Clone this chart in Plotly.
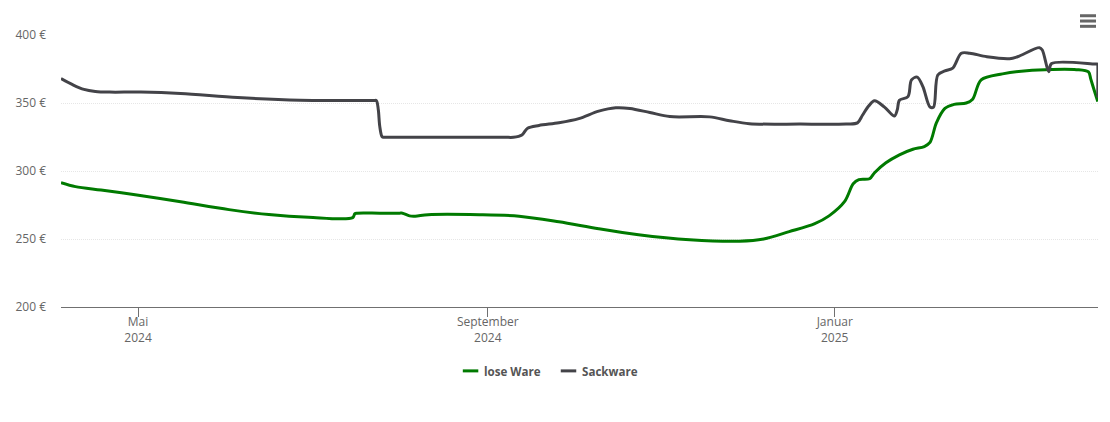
import plotly.graph_objects as go

sack_dates = ["2024-04-03 22:00","2024-04-08","2024-04-12","2024-04-16","2024-04-21","2024-05-02","2024-05-16","2024-06-05","2024-06-27","2024-07-11","2024-07-23","2024-07-23 20:00","2024-07-24 12:00","2024-07-25","2024-07-25 18:00","2024-07-26 06:00","2024-07-27 12:00","2024-08-02","2024-08-20","2024-09-07","2024-09-10","2024-09-13","2024-09-15","2024-09-19","2024-09-26","2024-10-03","2024-10-10","2024-10-16","2024-10-21","2024-10-28","2024-11-04","2024-11-18","2024-11-25","2024-12-02","2024-12-20","2025-01-05","2025-01-09","2025-01-10 18:00","2025-01-13","2025-01-15","2025-01-18 12:00","2025-01-22","2025-01-23","2025-01-23 18:00","2025-01-26 18:00","2025-01-28","2025-01-30","2025-02-01","2025-02-03 12:00","2025-02-04 18:00","2025-02-06 06:00","2025-02-08 18:00","2025-02-11 12:00","2025-02-14 12:00","2025-02-17 12:00","2025-02-23 12:00","2025-03-03 12:00","2025-03-06 06:00","2025-03-14","2025-03-15","2025-03-17 06:00","2025-03-18 06:00","2025-04-02 12:00","2025-04-03 08:00","2025-04-03 09:00","2025-04-03 12:00"]
sack_values = [368,363.5,360,358.5,358,358,357,354,352,351.8,351.8,351.8,345,333,325.5,324.8,324.8,324.8,324.8,324.8,324.8,326.5,331.5,333.5,335.5,338.5,344,346.5,346,343,340,339.8,337,334.8,334.5,334.6,335.4,341,348,351.6,347,340.5,345,352,354.7,367,369,362,347,347,370.6,373.6,375.6,386.6,386.6,384,382.6,384,390.7,389,373,379,378.6,378.6,378.6,354]

lose_dates = ["2024-04-03 22:00","2024-04-09","2024-04-18","2024-04-30","2024-05-16","2024-06-02","2024-06-16","2024-06-30","2024-07-15 12:00","2024-07-16 06:00","2024-07-17","2024-07-25","2024-08-01","2024-08-02","2024-08-04 12:00","2024-08-06 12:00","2024-08-11","2024-08-29","2024-09-12","2024-09-26","2024-10-10","2024-10-24","2024-11-11","2024-11-28 12:00","2024-12-07","2024-12-16","2024-12-25","2024-12-30","2025-01-04 12:00","2025-01-07 12:00","2025-01-09 12:00","2025-01-13 06:00","2025-01-15","2025-01-19","2025-01-23 18:00","2025-01-28 12:00","2025-02-01 12:00","2025-02-03 12:00","2025-02-05 18:00","2025-02-08 18:00","2025-02-12","2025-02-16 06:00","2025-02-18 12:00","2025-02-21 12:00","2025-03-01","2025-03-09 12:00","2025-03-27","2025-03-31 06:00","2025-04-01","2025-04-02","2025-04-03 12:00"]
lose_values = [291.4,288.5,286,282.6,277.4,271.6,268,266,265.7,268.6,269,269,269,269,267,266.8,267.9,267.9,266.8,262.7,257.6,253.2,249.5,248.4,250,255.4,261.3,267,277.6,290.6,293.6,294.3,298.7,306,311.9,316,318,321,335.4,346,349,350,352.8,367,371.4,373.8,374.5,372.8,367.9,361,351]

y_ticks = [200,250,300,350,400]
y_labels = ["200 €","250 €","300 €","350 €","400 €"]
x_ticks = ["2024-05-01","2024-09-01","2025-01-01"]
x_labels = ["Mai<br>2024","September<br>2024","Januar<br>2025"]
series_names = ["lose Ware", "Sackware"]
series_colors = ["#007a00", "#434348"]

W, H = 1110, 422
L, R, T, B = 61, 1098.5, 35, 307.5

def px(x):
    return (x - L) / (R - L)

def py(y):
    return (B - y) / (B - T)

fig = go.Figure()
fig.add_trace(go.Scatter(x=lose_dates, y=lose_values, name=series_names[0], mode="lines",
                         line=dict(color=series_colors[0], width=3, shape="spline", smoothing=0.9)))
fig.add_trace(go.Scatter(x=sack_dates, y=sack_values, name=series_names[1], mode="lines",
                         line=dict(color=series_colors[1], width=3, shape="spline", smoothing=0.9)))

shapes = []
for yy in (15.7, 21, 26.3):
    shapes.append(dict(type="line", xref="paper", yref="paper",
                       x0=px(1080.5), x1=px(1096.5), y0=py(yy), y1=py(yy),
                       line=dict(color="#666666", width=3)))
for x0, c in zip((463, 561), series_colors):
    shapes.append(dict(type="line", xref="paper", yref="paper",
                       x0=px(x0), x1=px(x0 + 15.5), y0=py(371.5), y1=py(371.5),
                       line=dict(color=c, width=3)))

annotations = [
    dict(text=n, x=px(xp), y=py(372.5), xref="paper", yref="paper", xanchor="left", yanchor="middle",
         showarrow=False, xshift=0, borderpad=0,
         font=dict(size=11.6, color="#555555", family="Open Sans", weight="bold"))
    for n, xp in zip(series_names, (483.5, 581.5))
]

fig.update_layout(
    width=W, height=H, autosize=False,
    margin=dict(l=L, r=W-R, t=T, b=H-B, pad=0),
    paper_bgcolor="white", plot_bgcolor="white",
    font=dict(family="Open Sans", size=12, color="#666666"),
    shapes=shapes, annotations=annotations,
    showlegend=False,
    xaxis=dict(type="date", range=["2024-04-03 22:00", "2025-04-03 14:00"], tickmode="array",
               tickvals=x_ticks, ticktext=x_labels, showgrid=False, zeroline=False,
               showline=True, linecolor="#707070", linewidth=1,
               ticks="outside", ticklen=9, tickcolor="#707070", tickwidth=1,
               ticklabelstandoff=-5,
               tickfont=dict(size=12, color="#666666")),
    yaxis=dict(range=[200, 400], tickmode="array", tickvals=y_ticks, ticktext=y_labels,
               showgrid=True, gridcolor="#e6e6e6", griddash="1px,1px", gridwidth=1,
               zeroline=False, showline=False, ticks="", ticklen=0, ticklabelstandoff=14,
               tickfont=dict(size=12, color="#666666")),
)

fig.write_html("out.html", config=dict(displayModeBar=False),
               post_script="document.body.style.margin='0';")
